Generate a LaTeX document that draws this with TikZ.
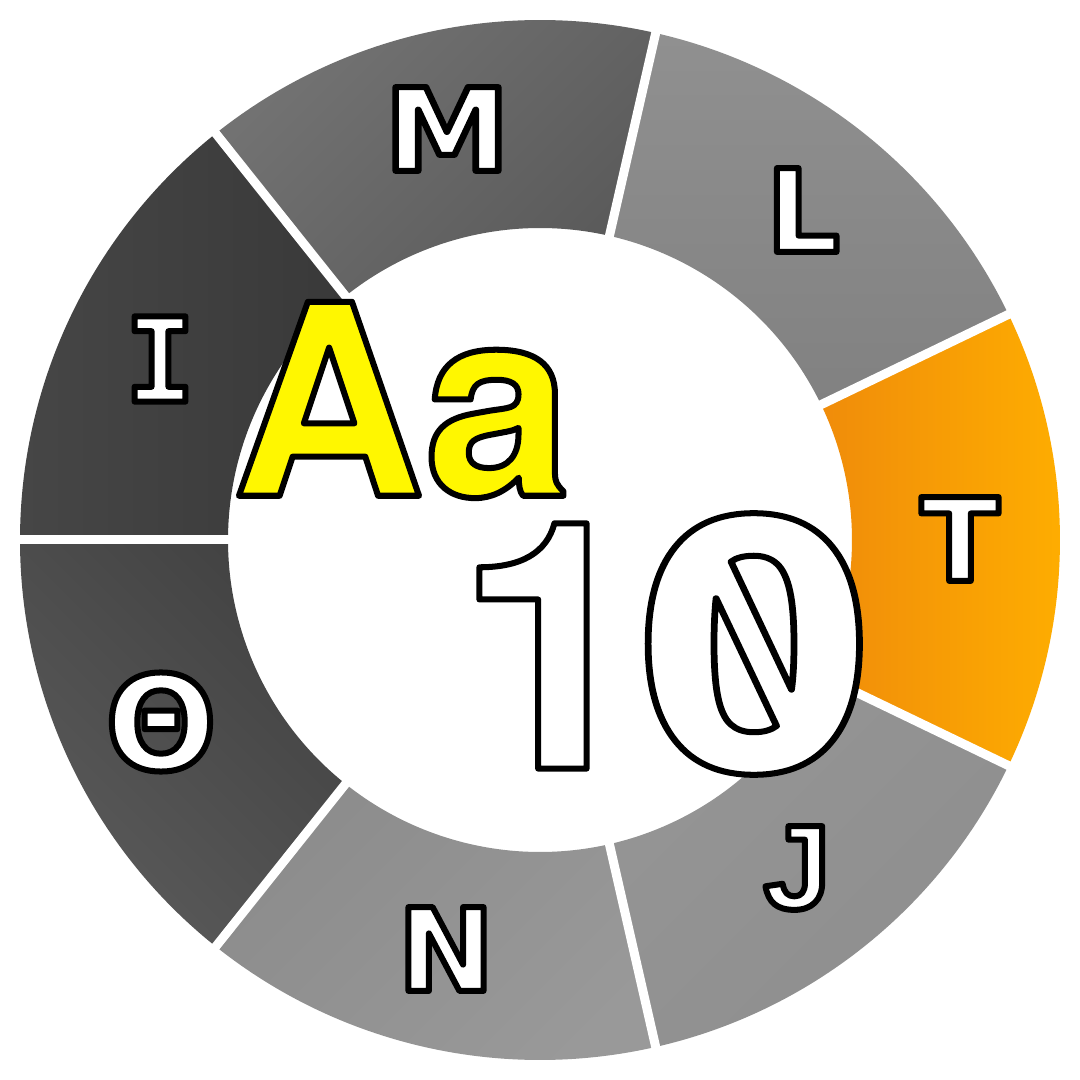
\documentclass[tikz,border=0pt]{standalone}
\usepackage{fontspec}
\usepackage{graphicx}
\newfontfamily\letterfont{DejaVuSans-Bold.ttf}
\newfontfamily\serifletterfont{DejaVuSansMono-Bold.ttf}
\newfontfamily\hookletterfont{Liberation Sans Bold}
\newfontfamily\aafont{texgyreheros-bold.otf}
\newfontfamily\zerofont{Fira Sans Bold}[Numbers=SlashedZero]

\definecolor{thetaA}{HTML}{5A5A5A}
\definecolor{thetaB}{HTML}{424242}
\definecolor{nA}{HTML}{8C8C8C}
\definecolor{nB}{HTML}{999999}
\definecolor{jA}{HTML}{959595}
\definecolor{jB}{HTML}{8E8E8E}
\definecolor{tA}{HTML}{F08C0A}
\definecolor{tB}{HTML}{FFAF00}
\definecolor{lA}{HTML}{909090}
\definecolor{lB}{HTML}{818181}
\definecolor{mA}{HTML}{747474}
\definecolor{mB}{HTML}{5A5A5A}
\definecolor{iA}{HTML}{464646}
\definecolor{iB}{HTML}{393939}
\definecolor{aayellow}{HTML}{FFF700}

% glyphs filled in the text colour and stroked in black
\newcommand{\outlined}[1]{\special{pdf:literal direct 2 Tr 6 w 1 j 0 0 0 RG}#1\special{pdf:literal direct 0 Tr}}

\begin{document}
\begin{tikzpicture}[x=1pt, y=1pt,
    gap/.style={white, line width=9pt},
    letter/.style={text=white, inner sep=0pt, font=\letterfont\fontsize{115}{115}\selectfont},
    serifletter/.style={letter, font=\serifletterfont\fontsize{117}{117}\selectfont},
    hookletter/.style={letter, font=\hookletterfont\fontsize{120}{120}\selectfont},
    aa/.style={text=aayellow, inner sep=0pt, font=\aafont\fontsize{266}{266}\selectfont},
    digit/.style={text=white, inner sep=0pt, font=\aafont\fontsize{346}{346}\selectfont}
]
    \fill[white] (0,0) rectangle (1080,1080);
    \useasboundingbox (0,0) rectangle (1080,1080);

    \begin{scope}[shift={(540,540)}]
    % Ring sectors, counter-clockwise from the left
    \foreach \s/\ca/\cb/\ang in {0/thetaA/thetaB/135, 1/nA/nB/45, 2/jA/jB/45,
                                 3/tA/tB/90, 4/lA/lB/0, 5/mA/mB/45, 6/iA/iB/90} {
        \pgfmathsetmacro{\st}{180+\s*360/7}
        \pgfmathsetmacro{\en}{\st+360/7}
        \shade[top color=\ca, bottom color=\cb, shading angle=\ang]
            (\st:312) -- (\st:520) arc[start angle=\st, end angle=\en, radius=520]
            -- (\en:312) arc[start angle=\en, end angle=\st, radius=312] -- cycle;
    }
    % Gaps between the sectors
    \foreach \s in {0,...,6} {
        \draw[gap] (180+\s*360/7:300) -- (180+\s*360/7:530);
    }
    \end{scope}

    % Sector letters
    \node[letter] (M) at (447,951) {\scalebox{1.1}[1]{\outlined{M}}};
    \node[letter] (L) at (803,870) {\outlined{L}};
    \node[letter] (T) at (960,541) {\outlined{T}};
    \node[hookletter] (J) at (797,212) {\outlined{J}};
    \node[letter] (N) at (446,131) {\outlined{N}};
    \node[letter, font=\letterfont\fontsize{131}{131}\selectfont] (Theta) at (161,358) {\outlined{Θ}};
    \node[serifletter] (I) at (160,721) {\outlined{I}};

    % Centre
    \node[aa] (Aa) at (402,680) {\outlined{Aa}};
    \node[digit] (one) at (552,434) {\outlined{1}};
    \node[digit, font=\zerofont\fontsize{370}{370}\selectfont] (zero) at (754,436)
        {\scalebox{-1.12}[1]{\outlined{0}}};
\end{tikzpicture}
\end{document}
